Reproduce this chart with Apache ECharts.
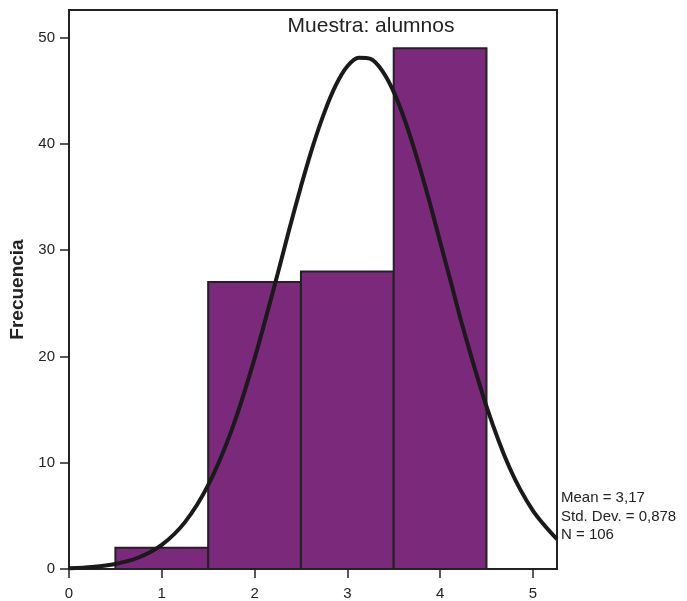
<!DOCTYPE html>
<html><head><meta charset="utf-8">
<script src="https://cdn.jsdelivr.net/npm/echarts@6/dist/echarts.min.js"></script>
<style>html,body{margin:0;padding:0;background:#fff}#c{width:687px;height:601px}</style>
</head><body><div id="c"></div>
<script>
// Histogram bins
var binStart = [0.5, 1.5, 2.5, 3.5];
var binEnd   = [1.5, 2.5, 3.5, 4.5];
var binCount = [2, 27, 28, 49];
// Normal curve points
var curveX = [0, 0.25, 0.5, 0.75, 1.0, 1.25, 1.5, 1.75, 2.0, 2.25, 2.375, 2.5, 2.625, 2.75, 2.875, 3.0, 3.125, 3.25, 3.375, 3.5, 3.625, 3.75, 3.875, 4.0, 4.125, 4.25, 4.5, 4.75, 5.0, 5.26];
var curveY = [0.07, 0.19, 0.47, 1.08, 2.27, 4.41, 7.89, 13.0, 19.8, 27.8, 32.0, 36.0, 39.7, 42.9, 45.5, 47.3, 48.1, 48.0, 46.9, 44.9, 42.1, 38.7, 34.9, 30.8, 26.7, 22.6, 15.3, 9.5, 5.5, 2.8];
// Tick labels
var xTicks = [0, 1, 2, 3, 4, 5];
var yTicks = [0, 10, 20, 30, 40, 50];
var statsLines = ['Mean = 3,17', 'Std. Dev. = 0,878', 'N = 106'];

var font = 'Liberation Sans, Arial, sans-serif';
var chart = echarts.init(document.getElementById('c'));
var barData = binStart.map(function (s, i) { return [s, binEnd[i], binCount[i]]; });
var curveData = curveX.map(function (x, i) { return [x, curveY[i]]; });

chart.setOption({
  animation: false,
  title: {
    text: 'Muestra: alumnos', left: 366, top: 11, textAlign: 'center',
    textStyle: { fontFamily: font, fontSize: 21, fontWeight: 'normal', color: '#222' }
  },
  grid: { left: 69, right: 130, top: 10, bottom: 31, show: true, borderColor: '#222', borderWidth: 2, backgroundColor: '#fff' },
  xAxis: {
    type: 'value', min: 0, max: 5.26, interval: 1,
    axisLine: { show: true, lineStyle: { color: '#222', width: 2 } },
    axisTick: { show: true, length: 9, lineStyle: { color: '#222', width: 1.5 }, customValues: xTicks },
    axisLabel: { fontFamily: font, fontSize: 15, color: '#222', margin: 17, customValues: xTicks },
    splitLine: { show: false }
  },
  yAxis: {
    type: 'value', min: 0, max: 52.6, interval: 10,
    name: 'Frecuencia', nameLocation: 'middle', nameGap: 37, nameRotate: 90,
    nameTextStyle: { fontFamily: font, fontSize: 19, fontWeight: 'bold', color: '#222' },
    axisLine: { show: true, lineStyle: { color: '#222', width: 2 } },
    axisTick: { show: true, length: 9, lineStyle: { color: '#222', width: 1.5 }, customValues: yTicks },
    axisLabel: { fontFamily: font, fontSize: 15, color: '#222', margin: 14, customValues: yTicks },
    splitLine: { show: false }
  },
  series: [
    {
      type: 'custom',
      data: barData,
      encode: { x: [0, 1], y: 2 },
      renderItem: function (params, api) {
        var p0 = api.coord([api.value(0), api.value(2)]);
        var p1 = api.coord([api.value(1), 0]);
        return {
          type: 'rect',
          shape: { x: p0[0], y: p0[1], width: p1[0] - p0[0], height: p1[1] - p0[1] },
          style: { fill: '#7B297B', stroke: '#222', lineWidth: 2 }
        };
      },
      z: 2
    },
    {
      type: 'line',
      data: curveData,
      smooth: 0.3,
      symbol: 'none',
      lineStyle: { color: '#1a1a1a', width: 4 },
      z: 5
    }
  ],
  graphic: [{
    type: 'text', left: 561, top: 489,
    style: { text: statsLines.join('\n'), font: '15px ' + font, fill: '#222', lineHeight: 18.5 }
  }]
});
</script>
</body></html>
